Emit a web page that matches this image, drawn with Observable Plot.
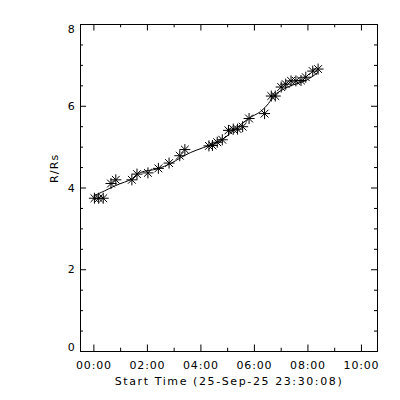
<!DOCTYPE html>
<html><head><meta charset="utf-8">
<script src="https://cdn.jsdelivr.net/npm/d3@7"></script>
<script src="https://cdn.jsdelivr.net/npm/@observablehq/plot@0.6"></script>
<style>body{margin:0;background:#fff}</style>
</head><body><div id="chart"></div>
<script>
// Measured points: hours after start time, R/Rs
const startHours = [0.02,0.18,0.35,0.64,0.82,1.42,1.61,2.02,2.41,2.81,3.21,3.40,4.30,4.43,4.61,4.80,5.03,5.21,5.37,5.56,5.80,6.38,6.63,6.78,7.00,7.17,7.37,7.55,7.74,7.92,8.18,8.38];
const radius =     [3.75,3.75,3.75,4.11,4.20,4.20,4.34,4.37,4.48,4.61,4.79,4.94,5.03,5.04,5.12,5.18,5.41,5.44,5.44,5.50,5.70,5.82,6.25,6.25,6.47,6.54,6.62,6.62,6.63,6.71,6.86,6.91];
// Fitted curve
const fitHours =  [0.00,0.40,0.81,1.45,1.74,2.38,2.87,3.24,3.62,4.10,4.74,5.30,5.78,6.23,6.53,6.72,7.28,7.92,8.38];
const fitRadius = [3.81,3.93,4.06,4.23,4.38,4.47,4.60,4.74,4.87,4.99,5.16,5.45,5.70,5.87,6.07,6.26,6.48,6.63,6.83];

const xTickValues = [0,2,4,6,8,10];
const xTickLabels = ["00:00","02:00","04:00","06:00","08:00","10:00"];
const xMinorTicks = [1,3,5,7,9];
const yTickValues = [0,2,4,6,8];
const yMinorTicks = [0.5,1,1.5,2.5,3,3.5,4.5,5,5.5,6.5,7,7.5];
const xTitle = "Start Time (25-Sep-25 23:30:08)";
const yTitle = "R/Rs";

const W = 400, H = 400, mL = 80, mR = 23, mT = 24, mB = 49;
const pw = W - mL - mR, ph = H - mT - mB;
const xMaj = 6.5, xMin = 3.3, yMaj = 6, yMin = 3;

const star = {
  draw(ctx, size) {
    const r = Math.sqrt(size / Math.PI), d = r * Math.SQRT1_2;
    ctx.moveTo(-r, 0); ctx.lineTo(r, 0);
    ctx.moveTo(0, -r); ctx.lineTo(0, r);
    ctx.moveTo(-d, -d); ctx.lineTo(d, d);
    ctx.moveTo(-d, d); ctx.lineTo(d, -d);
  }
};

const points = startHours.map((h, i) => ({h, r: radius[i]}));
const fit = fitHours.map((h, i) => ({h, r: fitRadius[i]}));
const yMid = yTickValues.slice(1, -1);
const yLo = yTickValues[0], yHi = yTickValues[yTickValues.length - 1];

const chart = Plot.plot({
  width: W, height: H,
  marginLeft: mL, marginRight: mR, marginTop: mT, marginBottom: mB,
  style: "font-family: 'DejaVu Sans'; font-size: 11px; letter-spacing: 0.8px; background: white; color: black;",
  x: {domain: [-0.5, 10.6]},
  y: {domain: [0, 8]},
  marks: [
    Plot.frame({stroke: "black"}),
    // bottom & top ticks
    Plot.ruleX(xTickValues, {x: d => d, insetTop: ph - xMaj, stroke: "black"}),
    Plot.ruleX(xTickValues, {x: d => d, insetBottom: ph - xMaj, stroke: "black"}),
    Plot.ruleX(xMinorTicks, {x: d => d, insetTop: ph - xMin, stroke: "black"}),
    Plot.ruleX(xMinorTicks, {x: d => d, insetBottom: ph - xMin, stroke: "black"}),
    // left & right ticks
    Plot.ruleY(yTickValues, {y: d => d, insetRight: pw - yMaj, stroke: "black"}),
    Plot.ruleY(yTickValues, {y: d => d, insetLeft: pw - yMaj, stroke: "black"}),
    Plot.ruleY(yMinorTicks, {y: d => d, insetRight: pw - yMin, stroke: "black"}),
    Plot.ruleY(yMinorTicks, {y: d => d, insetLeft: pw - yMin, stroke: "black"}),
    Plot.axisX(xTickValues, {tickSize: 0, tickPadding: 10, label: null,
      tickFormat: d => xTickLabels[xTickValues.indexOf(d)]}),
    Plot.axisY(yMid, {tickSize: 0, tickPadding: 5, label: null, tickFormat: d => String(d)}),
    Plot.text([yLo], {y: d => d, text: d => String(d), frameAnchor: "left", textAnchor: "end", dx: -5, dy: -4}),
    Plot.text([yHi], {y: d => d, text: d => String(d), frameAnchor: "left", textAnchor: "end", dx: -5, dy: 4.5}),
    Plot.text([xTitle], {text: d => d, frameAnchor: "bottom", dy: 30, lineAnchor: "middle"}),
    Plot.text([yTitle], {text: d => d, frameAnchor: "left", dx: -26, dy: -5, rotate: -90, lineAnchor: "middle"}),
    Plot.line(fit, {x: "h", y: "r", stroke: "black", strokeWidth: 1, curve: "catmull-rom"}),
    Plot.dot(points, {x: "h", y: "r", symbol: star, r: 5.5, stroke: "black", strokeWidth: 1, fill: "none"})
  ]
});
d3.select(chart).selectAll("text")
  .filter(function () { return this.textContent === xTitle; })
  .style("letter-spacing", "1.6px");
d3.select(chart).selectAll("text")
  .filter(function () { return this.textContent === yTitle; })
  .style("letter-spacing", "1.2px");
document.getElementById("chart").append(chart);
</script>
</body></html>
